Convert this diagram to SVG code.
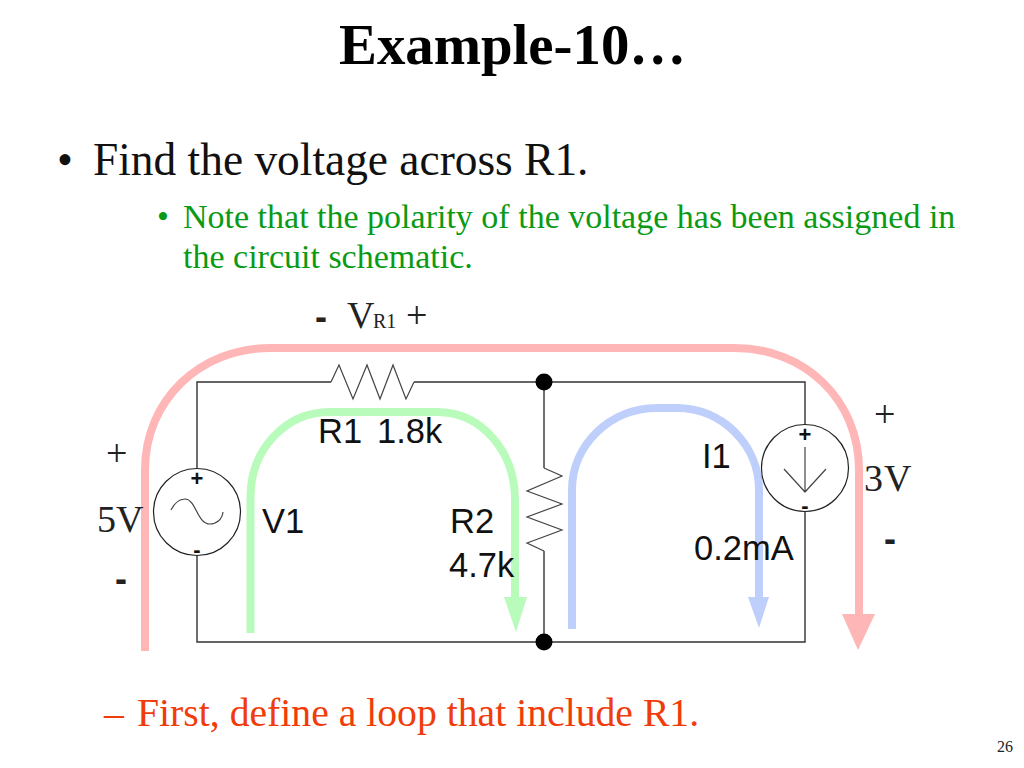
<svg xmlns="http://www.w3.org/2000/svg" width="1024" height="768" viewBox="0 0 1024 768">
<style>
.s{font-family:"Liberation Serif",serif}
.a{font-family:"Liberation Sans",Arial,sans-serif;font-size:34.500px;fill:#111}
.v{font-family:"Liberation Serif",serif;font-size:38px;fill:#222}
.w{fill:none;stroke:#333;stroke-width:1.4}
.t{fill:none;stroke:#444;stroke-width:1.2}
.c{fill:none;stroke:#222;stroke-width:1.2}
.l{fill:none;stroke-width:8}
.d{font-family:"Liberation Sans",Arial,sans-serif;font-size:22px;font-weight:bold;fill:#111}
.m{font-family:"Liberation Sans",Arial,sans-serif;font-size:36px;font-weight:bold;fill:#222}
.g{fill:#0a9a14}
.o{fill:#f03c0a}
</style>
<rect width="1024" height="768" fill="#fff"/>
<text class="s" x="339" y="64" font-size="56.800" font-weight="bold" fill="#000">Example-10…</text>
<text class="s" x="57" y="175" font-size="45.400" fill="#111">•</text>
<text class="s" x="93" y="175" font-size="45.400" fill="#111">Find the voltage across R1.</text>
<text class="s g" x="157" y="228" font-size="34">•</text>
<text class="s g" x="183" y="228" font-size="34">Note that the polarity of the voltage has been assigned in</text>
<text class="s g" x="183" y="268" font-size="34">the circuit schematic.</text>
<g id="loops">
<path class="l" stroke="#ffb6b6" d="M145 651V470C145 400 200 348 270 348H735C805 348 859 400 859 470V615"/>
<polygon fill="#ffb6b6" points="842,614 875,614 858,650"/>
<path class="l" stroke="#b9fbbb" d="M250.500 633V497C250.500 450 285 412 330 412H437C482 412 515 452 515 500V598"/>
<polygon fill="#b9fbbb" points="504,597 527,597 516,632"/>
<path class="l" stroke="#bfcffb" d="M572 629V490C572 445 610 408 657 408H677C722 408 759 445 759 490V598"/>
<polygon fill="#bfcffb" points="748,597 769,597 759,628"/>
</g>
<g id="connectors">
<path class="w" d="M197 468V382H331M414 382H805V424M805 512V642H197V556M544 382V468M544 551V642"/>
</g>
<g id="R1"><path class="t" d="M331 382L339 365L353 399L367 365L380 399L393 365L406 399L414 382"/>
<text class="a" x="318" y="443">R1</text><text class="a" x="377" y="443">1.8k</text></g>
<g id="R2"><path class="t" d="M544 468L562 476L527 491L562 504L527 517L562 530L527 543L544 551"/>
<text class="a" x="450" y="533">R2</text><text class="a" x="449" y="577">4.7k</text></g>
<g id="V1"><circle class="c" cx="197" cy="512" r="43.500"/>
<path class="t" d="M171 510C175 502 180 499 185 499C196 499 197 524 210 524C216 524 222 520 223 512"/>
<text class="d" x="197" y="486" text-anchor="middle">+</text><text class="d" x="197" y="557" text-anchor="middle">-</text>
<text class="a" x="262" y="533">V1</text></g>
<g id="I1"><circle class="c" cx="805" cy="468" r="43.500"/>
<path class="t" d="M805 447V492M784 469L805 492L826 469"/>
<text class="d" x="805" y="442" text-anchor="middle">+</text><text class="d" x="805" y="513" text-anchor="middle">-</text>
<text class="a" x="702" y="468">I1</text><text class="a" x="694" y="560">0.2mA</text></g>
<g id="N1"><circle cx="544" cy="382" r="8.500" fill="#000"/></g>
<g id="N2"><circle cx="544" cy="642" r="8.500" fill="#000"/></g>
<g id="labels">
<text class="m" x="315" y="329">-</text>
<text class="v" x="347" y="328">V</text><text class="s" x="373" y="328" font-size="20" fill="#222">R1</text>
<text class="v" x="406" y="328">+</text>
<text class="v" x="106" y="466">+</text><text class="v" x="97" y="532">5V</text>
<text class="m" x="115" y="591">-</text>
<text class="v" x="874" y="427">+</text><text class="v" x="864" y="491" letter-spacing="1">3V</text>
<text class="m" x="884" y="551">-</text>
</g>
<text class="s o" x="104" y="726" font-size="39.700">–</text>
<text class="s o" x="137" y="726" font-size="39.700">First, define a loop that include R1.</text>
<text class="s" x="997" y="752" font-size="16" fill="#222">26</text>
</svg>
